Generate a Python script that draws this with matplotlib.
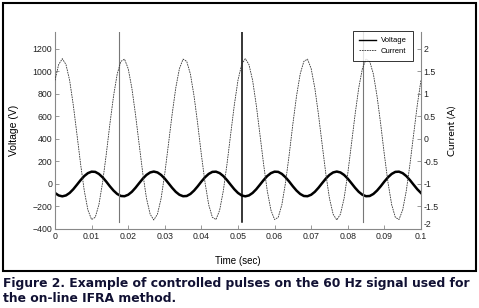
import numpy as np
import matplotlib
matplotlib.use('Agg')
import matplotlib.pyplot as plt
from matplotlib.patches import Rectangle


# samples, one every 1 ms (0 .. 0.1 s)
time_ms = list(range(0, 101))

volt_cycle = [-110, -102, -80, -47, -7, 34, 70, 96, 109, 107,
              89, 59, 21, -21, -59, -89, -107, -109, -96, -70,
              -34, 7, 47, 80, 102, 110, 102, 80, 47, 7,
              -34, -70, -96, -109, -107, -89, -59, -21, 21, 59,
              89, 107, 109, 96, 70, 34, -7, -47, -80, -102]

curr_cycle = [1.78, 1.65, 1.30, 0.75, 0.10, -0.56, -1.15, -1.58, -1.79, -1.74,
              -1.46, -0.97, -0.35, 0.33, 0.95, 1.44, 1.72, 1.77, 1.56, 1.13,
              0.54, -0.12, -0.77, -1.32, -1.67, -1.80, -1.67, -1.32, -0.77, -0.12,
              0.54, 1.13, 1.56, 1.77, 1.72, 1.44, 0.95, 0.33, -0.35, -0.97,
              -1.46, -1.74, -1.79, -1.58, -1.15, -0.56, 0.10, 0.75, 1.30, 1.65]

voltage = [-80, -102] + volt_cycle + volt_cycle[:49]
current = [1.30, 1.65] + curr_cycle + curr_cycle[:49]

# controlled pulses (time in s, extent in V)
pulse_times = [0.0176, 0.0511, 0.0843]
pulse_colors = ['#777777', 'black', '#777777']
pulse_widths = [0.8, 1.1, 0.8]
pulse_low = -335
pulse_high = 1400

x_ticks = [0, 0.01, 0.02, 0.03, 0.04, 0.05, 0.06, 0.07, 0.08, 0.09, 0.1]
x_labels = ['0', '0.01', '0.02', '0.03', '0.04', '0.05', '0.06', '0.07', '0.08', '0.09', '0.1']
v_ticks = [-400, -200, 0, 200, 400, 600, 800, 1000, 1200]
i_ticks = [-2, -1.5, -1, -0.5, 0, 0.5, 1, 1.5, 2]
i_labels = ['-2', '-1.5', '-1', '-0.5', '0', '0.5', '1', '1.5', '2']

t = np.array(time_ms) / 1000.0

plt.rcParams['font.family'] = ['Liberation Sans', 'DejaVu Sans']

fig = plt.figure(figsize=(4.79, 3.08), dpi=100)
ax = fig.add_axes([0.1148, 0.2565, 0.764, 0.640])
ax2 = ax.twinx()

ax.plot(t, voltage, color='black', lw=1.8, label='Voltage')
ax2.plot(t, current, color='#333333', lw=0.6, ls=(0, (2, 1)), label='Current')

for x, c, w in zip(pulse_times, pulse_colors, pulse_widths):
    ax.plot([x, x], [pulse_low, pulse_high], color=c, lw=w)

ax.set_xlim(0, 0.1)
ax.set_ylim(-400, 1350)
ax2.set_ylim(-2, 2.375)

ax.set_xticks(x_ticks)
ax.set_xticklabels(x_labels)
ax.set_yticks(v_ticks)
ax2.set_yticks(i_ticks)
ax2.set_yticklabels(i_labels)

for a in (ax, ax2):
    a.spines['top'].set_visible(False)
    for s in ('left', 'right', 'bottom'):
        a.spines[s].set_color('#888888')
        a.spines[s].set_linewidth(0.8)
    a.tick_params(direction='in', length=3, width=0.6, color='#888888',
                  labelsize=6.3, pad=2, labelcolor='#222222')
ax.spines['right'].set_visible(False)
ax2.spines['left'].set_visible(False)
ax2.spines['bottom'].set_visible(False)

# the bottom "-2" sits just above its tick, as in the original
ax2.get_yticklabels()[0].set_verticalalignment('bottom')

ax.set_xlabel('Time (sec)', fontsize=7, labelpad=11)
ax.set_ylabel('Voltage (V)', fontsize=7.5, labelpad=10)
ax2.set_ylabel('Current (A)', fontsize=7.5, labelpad=6, family=['Lato', 'DejaVu Sans'])

h1, l1 = ax.get_legend_handles_labels()
h2, l2 = ax2.get_legend_handles_labels()
leg = ax2.legend(h1 + h2, l1 + l2, loc='upper right', bbox_to_anchor=(0.978, 1.005),
                 borderaxespad=0, fontsize=5.5, frameon=True, fancybox=False,
                 handlelength=2.3, borderpad=0.8, labelspacing=0.45, handletextpad=0.6)
leg.get_frame().set_edgecolor('black')
leg.get_frame().set_linewidth(0.7)
leg.get_lines()[0].set_linewidth(1.0)

# outer box around the chart
fig.patches.append(Rectangle((3 / 479, 37 / 308), 473 / 479, 268 / 308,
                             transform=fig.transFigure, fill=False,
                             edgecolor='black', lw=1.5))

fig.text(0.006, 0.102, 'Figure 2. Example of controlled pulses on the 60 Hz signal used for\nthe on-line IFRA method.',
         ha='left', va='top', fontsize=8.9, fontweight='bold', color='#111133',
         linespacing=1.22, family=['DejaVu Sans'])

fig.savefig('out.png', dpi=100)
